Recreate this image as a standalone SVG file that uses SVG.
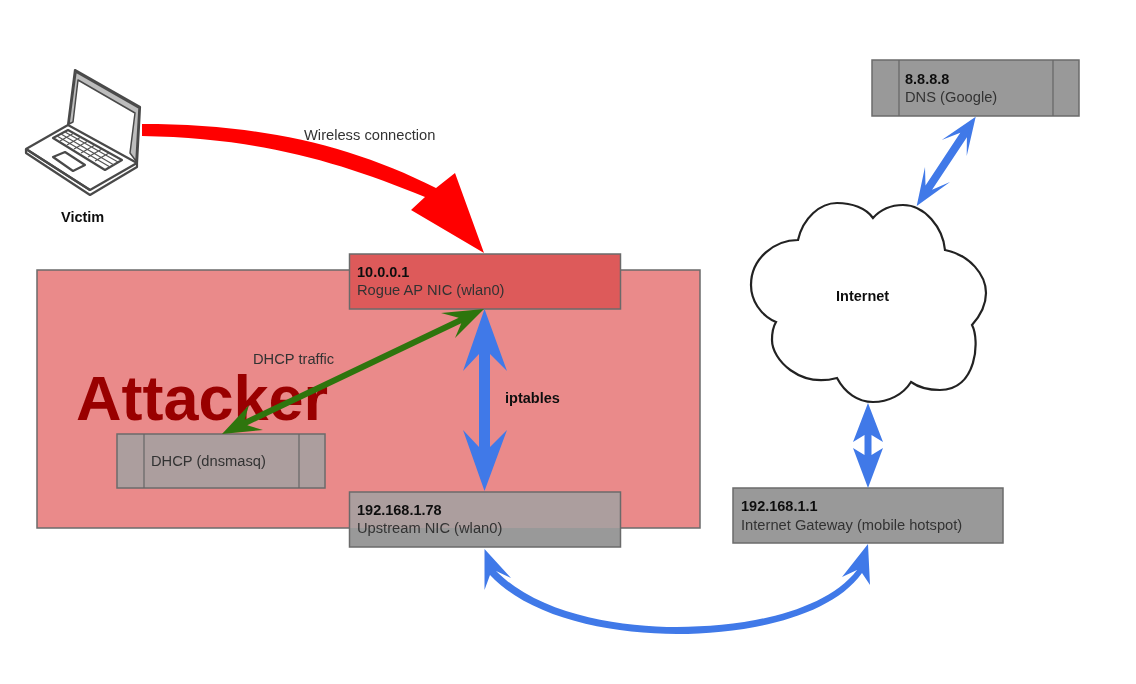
<svg xmlns="http://www.w3.org/2000/svg" width="1136" height="684" viewBox="0 0 1136 684">
<style>
text{font-family:"Liberation Sans",Arial,sans-serif;font-size:14.700px;fill:#333}
.b{font-weight:bold;font-size:14.500px;fill:#111}
.box{stroke:#6b6b6b;stroke-width:1.5}
.gray{fill:#999}
.rose{fill:#ac9e9e}
.div{stroke:#666;stroke-width:1.2;fill:none}
.blue{fill:#4079e8}
.green{fill:#2f7410}
.lap{fill:none;stroke:#4a4a4a;stroke-width:2.200;stroke-linejoin:round}
.lapw{fill:#fff;stroke:#4a4a4a;stroke-width:2.200;stroke-linejoin:round}
.key{stroke:#555;stroke-width:1.200;fill:none}
</style>
<defs><filter id="soft" filterUnits="userSpaceOnUse" x="0" y="0" width="1136" height="684"><feGaussianBlur stdDeviation="0.55"/></filter></defs>
<rect width="1136" height="684" fill="#fff"/>
<g filter="url(#soft)">
<g id="attacker">
<rect x="37" y="270" width="663" height="258" fill="#ea8a8a" class="box"/>
<text x="76" y="420" style="font-size:63px;font-weight:bold;fill:#990000">Attacker</text>
</g>
<g id="victim">
<path class="lapw" d="M68,125 L75,70 L140,107 L137,163 L90,190 L26,149 Z"/>
<path d="M69,124 L76,72 L139,108 L136,161 L130,153 L135,113 L78,80 L73,122 Z" fill="#bdbdbd" stroke="#4a4a4a" stroke-width="1.500" stroke-linejoin="round"/>
<path class="lap" d="M26,149 L26,153 L90,195 L137,167 L137,163"/>
<path class="lap" d="M68,125 L137,163 M26,149 L90,190"/>
<path class="lapw" d="M53,138 L68,130 L122,160 L105,170 Z"/>
<path class="key" d="M57,136 L110,167 M61,134 L114,165 M65,132 L118,162 M60,141 L74,133 M67,145 L81,137 M74,149 L88,141 M81,153 L95,145 M88,157 L102,149 M95,161 L109,153"/>
<path class="lapw" d="M53,157 L65,152 L85,165 L73,171 Z"/>
<text x="61" y="222" class="b">Victim</text>
</g>
<g id="internet">
<path d="M798,240 C803,218 820,203 837,203 C852,203 866,208 873,218 C882,208 892,205 903,205 C925,205 943,228 945,250 C970,255 986,275 986,293 C986,305 980,316 972,325 C980,340 977,390 940,390 C928,390 918,387 911,382 C903,395 888,402 873,402 C858,402 845,393 837,378 C800,388 772,360 772,340 C772,333 773,327 776,322 C760,315 751,300 751,285 C751,258 775,240 798,240 Z" fill="#fff" stroke="#222" stroke-width="2.200"/>
<text x="836" y="301" class="b">Internet</text>
</g>
<g id="dns">
<rect x="872" y="60" width="207" height="56" class="box gray"/>
<path class="div" d="M899,60 V116 M1053,60 V116"/>
<text x="905" y="84" class="b">8.8.8.8</text>
<text x="905" y="102">DNS (Google)</text>
</g>
<g id="dhcp">
<rect x="117" y="434" width="208" height="54" class="box rose"/>
<path class="div" d="M144,434 V488 M299,434 V488"/>
<text x="151" y="466">DHCP (dnsmasq)</text>
</g>
<g id="rogue-ap">
<rect x="349.500" y="254" width="271" height="55" fill="#dd5a5a" class="box"/>
<text x="357" y="277" class="b">10.0.0.1</text>
<text x="357" y="295">Rogue AP NIC (wlan0)</text>
</g>
<g id="upstream">
<rect x="349.500" y="492" width="271" height="55" class="gray"/>
<rect x="349.500" y="492" width="271" height="36" class="rose"/>
<rect x="349.500" y="492" width="271" height="55" fill="none" class="box"/>
<text x="357" y="515" class="b">192.168.1.78</text>
<text x="357" y="533">Upstream NIC (wlan0)</text>
</g>
<g id="gateway">
<rect x="733" y="488" width="270" height="55" class="box gray"/>
<text x="741" y="511" class="b">192.168.1.1</text>
<text x="741" y="530">Internet Gateway (mobile hotspot)</text>
</g>
<g id="connectors">
<path d="M142,124 C260,124 350,145 436,188 L455,173 L484,253 L411,210 L425,197 C340,162 260,138 142,136 Z" fill="#f00"/>
<path class="green" d="M484,309 L441,313 L458.700,317.800 L244.700,419.800 L249,405 L222,434 L263,430 L247.300,425.200 L461.300,323.200 L455,338 Z"/>
<path class="blue" d="M484.500,309 L507,371 L490,354 L490,447 L507,430 L484.500,491 L463,430 L479,447 L479,354 L463,371 Z"/>
<path class="blue" d="M868,403 L883,442 L871.500,435 L871.500,455 L883,448 L868,488 L853,448 L864.500,455 L864.500,435 L853,442 Z"/>
<path class="blue" d="M975.700,116.700 L966.700,156 L966.900,137.200 L932.100,189.800 L950,182 L916.700,206 L925,167 L925.500,185.400 L960.300,132.800 L941.700,140 Z"/>
<path class="blue" d="M484.500,549 L511,578 L496,571 C540,615 620,627 677,627 C745,627 825,612 857,570 L842,577 L868,544 L870,585 L862,573 C830,618 745,634 677,634 C610,634 530,618 490,575 L484.500,590 Z"/>
<text x="304" y="140">Wireless connection</text>
<text x="253" y="364">DHCP traffic</text>
<text x="505" y="403" class="b">iptables</text>
</g>
</g>
</svg>
